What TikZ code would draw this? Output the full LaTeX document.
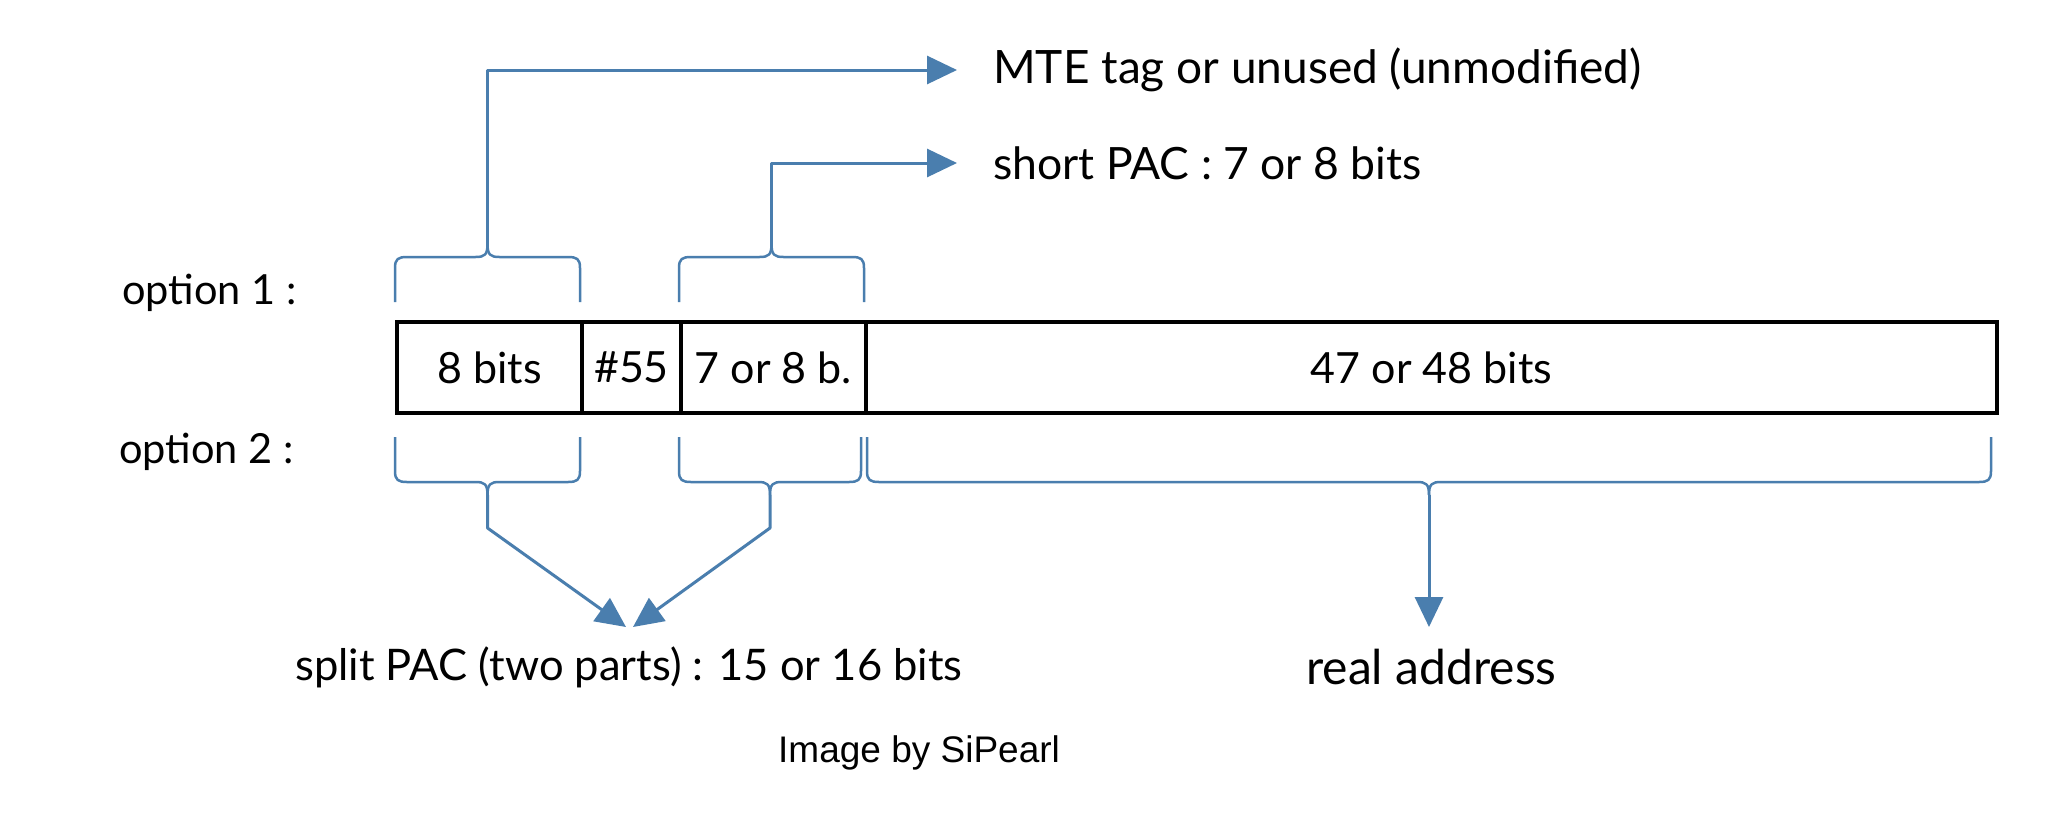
\documentclass[tikz,border=0pt]{standalone}
\usepackage{fontspec}
\setmainfont{Lato}
\newfontfamily\arialf{Liberation Sans}
\usetikzlibrary{arrows.meta}
\definecolor{lblue}{HTML}{4A7EAE}
\newcommand\mybracetop[2]{%
  \pgfmathsetmacro\xm{(#1+#2)/2}%
  \draw[brc] (#1,302) -- (#1,268) .. controls (#1,259) and (#1+3,257) .. (#1+12,257) -- (\xm-12,257) .. controls (\xm-3,257) and (\xm,255) .. (\xm,244);
  \draw[brc] (#2,302) -- (#2,268) .. controls (#2,259) and (#2-3,257) .. (#2-12,257) -- (\xm+12,257) .. controls (\xm+3,257) and (\xm,255) .. (\xm,244);
}
\newcommand\mybracebot[2]{%
  \pgfmathsetmacro\xm{(#1+#2)/2}%
  \draw[brc] (#1,437) -- (#1,471) .. controls (#1,480) and (#1+3,482) .. (#1+12,482) -- (\xm-12,482) .. controls (\xm-3,482) and (\xm,484) .. (\xm,495);
  \draw[brc] (#2,437) -- (#2,471) .. controls (#2,480) and (#2-3,482) .. (#2-12,482) -- (\xm+12,482) .. controls (\xm+3,482) and (\xm,484) .. (\xm,495);
}
\begin{document}
\begin{tikzpicture}[x=1pt,y=-1pt,
  cell/.style={draw=black,line width=4pt,minimum height=91pt,inner sep=0pt,anchor=west,font=\fontsize{43}{50}\selectfont},
  lbl/.style={anchor=west,inner sep=0pt,font=\fontsize{44.5}{54}\selectfont},
  brc/.style={draw=lblue,line width=2.5pt,line join=round},
  arr/.style={draw=lblue,line width=3pt,line join=round,-{Triangle[length=30pt,width=28pt]}}]
\fill[white] (0,0) rectangle (2062,812);
\useasboundingbox (0,0) rectangle (2062,812);

% cells
\node[cell,minimum width=185pt] (c1) at (395,367.5) {8 bits};
\node[cell,minimum width=99pt] (c2) at (580,367.5) {\#55};
\node[cell,minimum width=185pt] (c3) at (679,367.5) {7 or 8 b.};
\node[cell,minimum width=1131pt] (c4) at (864,367.5) {47 or 48 bits};

% labels
\node[lbl,font=\fontsize{41.5}{48}\selectfont] (opt1) at (122,293) {option 1 :};
\node[lbl,font=\fontsize{41.5}{48}\selectfont] (opt2) at (119,452) {option 2 :};
\node[lbl,font=\fontsize{46}{54}\selectfont] (mte) at (993,70) {MTE tag or unused (unmodified)};
\node[lbl] (spac) at (993,163) {short PAC : 7 or 8 bits};
\node[lbl,font=\fontsize{43.5}{54}\selectfont] (split) at (295,667) {split PAC (two parts) : 15 or 16 bits};
\node[lbl,font=\fontsize{48}{54}\selectfont] (real) at (1306,667) {real address};
\node[anchor=west,inner sep=0pt,font=\arialf\fontsize{37}{44}\selectfont] (credit) at (778,753) {Image by SiPearl};

% top braces
\mybracetop{395}{580}
\mybracetop{679}{864}
\coordinate (t1) at (487.5,244);
\coordinate (t2) at (771.5,244);
\draw[arr] (t1) |- ([xshift=-36pt]mte.west);
\draw[arr] (t2) |- ([xshift=-36pt]spac.west);

% bottom braces
\mybracebot{395}{580}
\mybracebot{679}{861}
\mybracebot{867}{1991}
\coordinate (b1) at (487.5,495);
\coordinate (b2) at (770,495);
\coordinate (b3) at (1429,495);
\coordinate (s1) at (626,627);
\coordinate (s2) at (633,627);
\coordinate (r1) at (1429,627);
\draw[arr] (b1) -- ++(0,33) -- (s1);
\draw[arr] (b2) -- ++(0,33) -- (s2);
\draw[arr] (b3) -- (r1);
\end{tikzpicture}
\end{document}
